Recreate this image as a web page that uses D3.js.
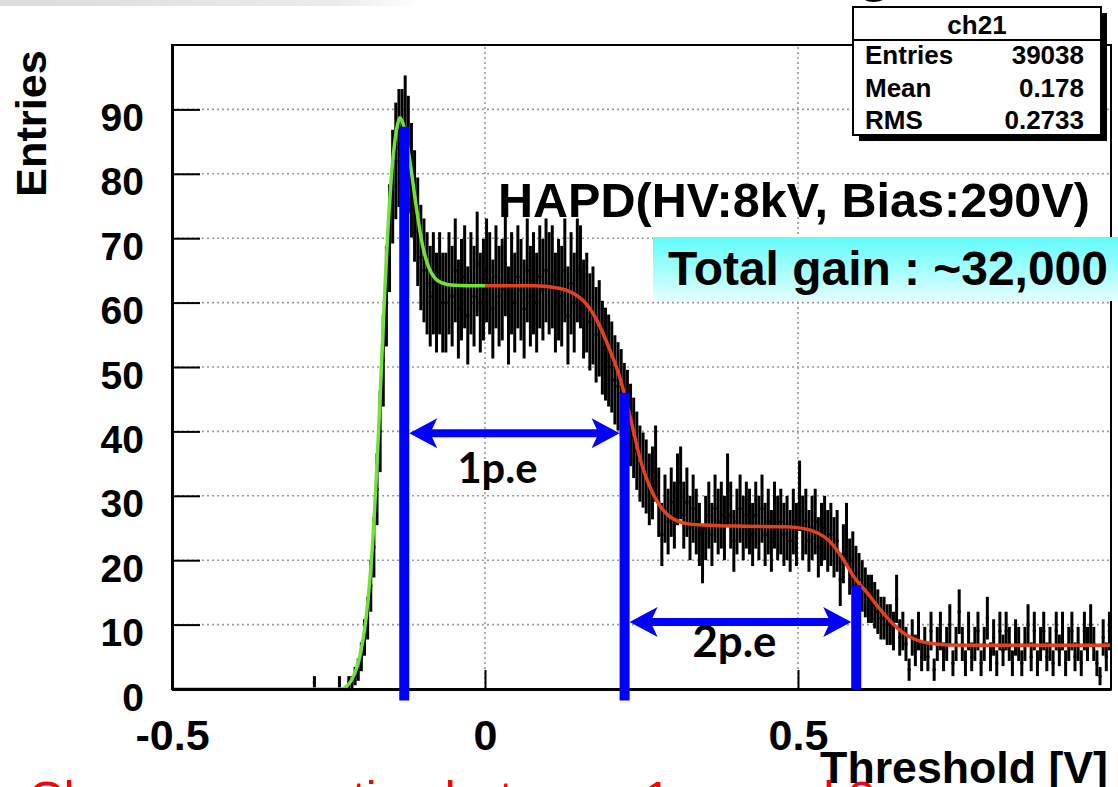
<!DOCTYPE html>
<html>
<head>
<meta charset="utf-8">
<script src="https://cdn.jsdelivr.net/npm/d3@7"></script>
<style>
  body { margin: 0; background: #fff; }
  svg { display: block; font-family: "Liberation Sans", Arial, sans-serif; }
</style>
</head>
<body>
<svg id="chart" width="1118" height="787"></svg>
<script>
// histogram ch21 : entries per threshold bin (bins of 0.005 V starting at -0.3 V)
var binStart = -0.3;
var binWidth = 0.005;
var counts = [
  0, 0, 0, 0, 0, 1, 0, 0, 0, 0, 0, 0, 0, 1, 0,
  0, 1, 1, 2, 3, 5, 8, 11, 16, 22, 31, 40, 51, 61, 70, 78, 82, 84, 84, 86,
  83, 79, 75, 71, 67, 65, 63, 61, 63, 60, 63, 60,
  60, 63, 61, 65, 59, 62, 64, 58, 63, 61, 66, 60, 62, 65, 63, 59, 64, 61, 62, 66,
  58, 63, 60, 64, 62, 59, 65, 61, 63, 60, 64, 62, 65, 63, 64, 60, 62, 61, 65, 58,
  63, 60, 65, 64,
  59, 60, 57, 58, 55, 56, 53, 52, 51, 50, 48, 47, 46, 44, 43, 41, 39, 37, 35, 34,
  33, 31, 32, 35, 29,
  24, 28, 26, 29, 27, 31, 32, 27, 29, 25, 28, 26, 24, 21, 25, 27, 24, 28, 26, 27,
  25, 31, 27, 23, 26, 28, 25, 27, 26, 24, 27, 25, 28, 24, 26, 23, 27, 25, 26, 24,
  25, 23, 26, 24, 30, 25, 26, 23, 25, 26, 22, 24, 25, 23, 24, 22, 23, 17, 21, 24,
  19, 20, 18, 17, 16,
  15, 14, 14, 13, 12, 11, 11, 10, 10, 9, 14, 8, 9, 7, 3, 8, 6, 9, 5, 7,
  5, 9, 3, 7, 9, 5, 7, 10, 4, 7, 12, 7, 4, 9, 5, 7, 9, 4, 7, 11,
  5, 8, 4, 9, 6, 9, 7, 4, 8, 7, 4, 7, 10, 5, 9, 4, 7, 9, 5, 7,
  4, 9, 6, 9, 4, 7, 9, 5, 7, 4, 9, 7, 10, 7, 4, 2, 8, 5, 9
];

// fitted curves
var greenX = [-0.5, -0.23, -0.22, -0.21, -0.2, -0.19, -0.18, -0.17, -0.16, -0.15, -0.14, -0.136,
  -0.13, -0.12, -0.11, -0.1, -0.09, -0.08, -0.07, -0.05, 0];
var greenY = [0, 0, 0.5, 2, 5, 11, 22, 40, 62, 79, 87.5, 88.7,
  87.5, 82, 75, 69, 65.5, 63.8, 63.1, 62.7, 62.6];
var redX = [0, 0.08, 0.12, 0.14, 0.16, 0.18, 0.2, 0.215, 0.23, 0.25, 0.27, 0.29, 0.31, 0.34,
  0.4, 0.48, 0.51, 0.53, 0.55, 0.57, 0.59, 0.61, 0.63, 0.65, 0.67, 0.69, 0.72, 0.76, 1.0];
var redY = [62.6, 62.6, 62.2, 61.5, 60, 57, 52.5, 48.5, 43, 35, 30, 27.2, 26, 25.5,
  25.3, 25.2, 24.9, 24.3, 23, 20.5, 17.3, 15, 12.5, 10.3, 8.6, 7.6, 7, 6.8, 6.8];

// axes
var yTicks = [0, 10, 20, 30, 40, 50, 60, 70, 80, 90];
var xTicks = [-0.5, 0, 0.5];

// stats box
var statsTitle = "ch21";
var statsNames = ["Entries", "Mean", "RMS"];
var statsValues = ["39038", "0.178", "0.2733"];

// p.e. markers (blue) and arrows
var peX = [-0.129, 0.223, 0.593];
var peTop = [87.3, 46, 16.1];
var peBottom = [-1.8, -1.8, 0];
var arrowY = [39.7, 10.4];
var arrowLabels = ["1p.e", "2p.e"];

var svg = d3.select("#chart");
var blue = "#0000ff";

var x = d3.scaleLinear().domain([-0.5, 1.0]).range([172, 1111]);
var y = d3.scaleLinear().domain([0, 100]).range([689, 45]);

// scale a text so that its width matches w
function fitText(sel, w) {
  var len = sel.node().getComputedTextLength();
  var fs = parseFloat(sel.attr("font-size"));
  sel.attr("font-size", (fs * w) / len);
  return sel;
}

var defs = svg.append("defs");
var band = defs.append("linearGradient").attr("id", "band");
band.append("stop").attr("offset", "0").attr("stop-color", "#dcdcdc");
band.append("stop").attr("offset", "0.8").attr("stop-color", "#ebebeb");
band.append("stop").attr("offset", "1").attr("stop-color", "#ffffff");
var cyan = defs.append("linearGradient").attr("id", "cyan")
  .attr("x1", 0).attr("y1", 0).attr("x2", 0).attr("y2", 1);
cyan.append("stop").attr("offset", "0").attr("stop-color", "#5ffcfc");
cyan.append("stop").attr("offset", "1").attr("stop-color", "#e4ffff");
defs.append("clipPath").attr("id", "plot")
  .append("rect")
  .attr("x", x(-0.5)).attr("y", y(100))
  .attr("width", x(1.0) - x(-0.5)).attr("height", y(0) - y(100) + 1);

// slide leftovers at the top and bottom
svg.append("rect").attr("x", 0).attr("y", 0).attr("width", 420).attr("height", 6).attr("fill", "url(#band)");
svg.append("text").attr("x", 861).attr("y", -11).attr("font-size", 54)
  .attr("font-family", "'Open Sans', sans-serif").attr("font-weight", 300).text("g");
svg.append("text").attr("x", 28).attr("y", 815)
  .attr("font-size", 49).attr("fill", "#ff0000")
  .text("Charge separation between 1p.e and 2p.e");

// dotted grid
svg.append("g").selectAll("line")
  .data(yTicks.slice(1))
  .join("line")
  .attr("x1", x(-0.5)).attr("x2", x(1.0))
  .attr("y1", function (d) { return y(d); })
  .attr("y2", function (d) { return y(d); })
  .attr("stroke", "#9a9a9a").attr("stroke-width", 1.6).attr("stroke-dasharray", "2,3");
svg.append("g").selectAll("line")
  .data(xTicks.slice(1))
  .join("line")
  .attr("x1", function (d) { return x(d); })
  .attr("x2", function (d) { return x(d); })
  .attr("y1", y(0)).attr("y2", y(100))
  .attr("stroke", "#9a9a9a").attr("stroke-width", 1.6).attr("stroke-dasharray", "2,3");

// histogram drawn with error bars, as ROOT does after a fit
var bins = counts
  .map(function (c, i) {
    return { x0: binStart + i * binWidth, x1: binStart + (i + 1) * binWidth, v: c };
  })
  .filter(function (d) { return d.v > 0; });
var hist = svg.append("g").attr("clip-path", "url(#plot)");
hist.selectAll(".err")
  .data(bins)
  .join("line")
  .attr("class", "err")
  .attr("x1", function (d) { return x((d.x0 + d.x1) / 2); })
  .attr("x2", function (d) { return x((d.x0 + d.x1) / 2); })
  .attr("y1", function (d) { return y(d.v - Math.sqrt(d.v)); })
  .attr("y2", function (d) { return y(d.v + Math.sqrt(d.v)); })
  .attr("stroke", "#000").attr("stroke-width", 3);
hist.selectAll(".bin")
  .data(bins)
  .join("line")
  .attr("class", "bin")
  .attr("x1", function (d) { return x(d.x0); })
  .attr("x2", function (d) { return x(d.x1); })
  .attr("y1", function (d) { return y(d.v); })
  .attr("y2", function (d) { return y(d.v); })
  .attr("stroke", "#000").attr("stroke-width", 2.5);

// fits
var smooth = d3.line()
  .x(function (d) { return x(d[0]); })
  .y(function (d) { return y(d[1]); })
  .curve(d3.curveMonotoneX);
svg.append("path")
  .attr("d", smooth(d3.zip(greenX, greenY)))
  .attr("fill", "none").attr("stroke", "#72e234").attr("stroke-width", 3.5);
svg.append("path")
  .attr("d", smooth(d3.zip(redX, redY)))
  .attr("fill", "none").attr("stroke", "#e8401a").attr("stroke-width", 3.5);

// frame and axes
svg.append("rect")
  .attr("x", x(-0.5)).attr("y", y(100))
  .attr("width", x(1.0) - x(-0.5)).attr("height", y(0) - y(100))
  .attr("fill", "none").attr("stroke", "#000").attr("stroke-width", 2);

var yAxis = svg.append("g").attr("transform", "translate(" + x(-0.5) + ",0)");
yAxis.call(d3.axisLeft(y).tickValues(d3.range(0, 100, 2)).tickSize(-14).tickSizeOuter(0).tickFormat(""));
yAxis.call(d3.axisLeft(y).tickValues(yTicks).tickSize(-28).tickSizeOuter(0).tickPadding(28)
  .tickFormat(function (d) { return String(d); }));
yAxis.selectAll("line").attr("stroke-width", 2);
yAxis.selectAll(".domain").attr("stroke-width", 3);
yAxis.selectAll("text")
  .attr("dy", 21)
  .attr("font-size", 39).attr("font-weight", "bold")
  .attr("font-family", "'Liberation Sans', Arial, sans-serif").attr("fill", "#000");

var xAxis = svg.append("g").attr("transform", "translate(0," + y(0) + ")");
xAxis.call(d3.axisBottom(x).tickValues(d3.range(-0.5, 1.0001, 0.1)).tickSize(-9).tickSizeOuter(0).tickFormat(""));
xAxis.call(d3.axisBottom(x).tickValues(xTicks).tickSize(-19).tickSizeOuter(0)
  .tickFormat(function (d) { return String(d); }));
xAxis.selectAll("line").attr("stroke-width", 2);
xAxis.selectAll(".domain").attr("stroke-width", 3);
xAxis.selectAll("text")
  .attr("y", 61).attr("dy", 0)
  .attr("font-size", 43).attr("font-weight", "bold")
  .attr("font-family", "'Liberation Sans', Arial, sans-serif").attr("fill", "#000");

// axis titles
fitText(svg.append("text")
  .attr("transform", "translate(46,197) rotate(-90)")
  .attr("font-size", 42).attr("font-weight", "bold")
  .text("Entries"), 147);
fitText(svg.append("text")
  .attr("x", 1108).attr("y", 783).attr("text-anchor", "end")
  .attr("font-size", 42).attr("font-weight", "bold")
  .text("Threshold [V]"), 288);

// stats box
var stats = svg.append("g");
stats.append("rect").attr("x", 859).attr("y", 13).attr("width", 248).attr("height", 128).attr("fill", "#000");
stats.append("rect").attr("x", 853).attr("y", 7).attr("width", 248).attr("height", 128)
  .attr("fill", "#fff").attr("stroke", "#000").attr("stroke-width", 2);
stats.append("line").attr("x1", 853).attr("x2", 1101).attr("y1", 40).attr("y2", 40)
  .attr("stroke", "#000").attr("stroke-width", 2);
stats.append("text").attr("x", 977).attr("y", 34).attr("text-anchor", "middle")
  .attr("font-size", 26).attr("font-weight", "bold").text(statsTitle);
stats.selectAll(".sname").data(statsNames).join("text")
  .attr("class", "sname")
  .attr("x", 865)
  .attr("y", function (d, i) { return 64 + i * 32.5; })
  .attr("font-size", 26).attr("font-weight", "bold")
  .text(function (d) { return d; });
stats.selectAll(".sval").data(statsValues).join("text")
  .attr("class", "sval")
  .attr("x", 1084).attr("text-anchor", "end")
  .attr("y", function (d, i) { return 64 + i * 32.5; })
  .attr("font-size", 26).attr("font-weight", "bold")
  .text(function (d) { return d; });

// HAPD labels
fitText(svg.append("text").attr("x", 498).attr("y", 217)
  .attr("font-size", 46).attr("font-weight", "bold")
  .text("HAPD(HV:8kV, Bias:290V)"), 592);
svg.append("rect").attr("x", 653).attr("y", 237).attr("width", 465).attr("height", 64)
  .attr("fill", "url(#cyan)");
fitText(svg.append("text").attr("x", 668).attr("y", 285)
  .attr("font-size", 40).attr("font-weight", "bold")
  .text("Total gain : ~32,000"), 440);

// blue p.e. markers
svg.append("g").selectAll("line")
  .data(peX)
  .join("line")
  .attr("x1", function (d) { return x(d); })
  .attr("x2", function (d) { return x(d); })
  .attr("y1", function (d, i) { return y(peTop[i]); })
  .attr("y2", function (d, i) { return y(peBottom[i]); })
  .attr("stroke", blue).attr("stroke-width", 10);

// double arrows between markers
var labelDx = [-17, -6];
var labelDy = [50, 35];
var labelW = [80, 84];
arrowY.forEach(function (v, i) {
  var x0 = x(peX[i]) + 5;
  var x1 = x(peX[i + 1]) - 5;
  var yy = y(v);
  var g = svg.append("g");
  g.append("line").attr("x1", x0 + 15).attr("x2", x1 - 15).attr("y1", yy).attr("y2", yy)
    .attr("stroke", blue).attr("stroke-width", 8);
  g.append("path")
    .attr("d", "M" + x0 + "," + yy + "L" + (x0 + 28) + "," + (yy - 15) + "L" + (x0 + 21) + "," + yy +
      "L" + (x0 + 28) + "," + (yy + 15) + "Z")
    .attr("fill", blue);
  g.append("path")
    .attr("d", "M" + x1 + "," + yy + "L" + (x1 - 28) + "," + (yy - 15) + "L" + (x1 - 21) + "," + yy +
      "L" + (x1 - 28) + "," + (yy + 15) + "Z")
    .attr("fill", blue);
  fitText(g.append("text")
    .attr("x", (x0 + x1) / 2 + labelDx[i]).attr("y", yy + labelDy[i])
    .attr("text-anchor", "middle")
    .attr("font-family", "Lato, 'Open Sans', sans-serif")
    .attr("font-size", 34).attr("font-weight", "bold")
    .text(arrowLabels[i]), labelW[i]);
});
</script>
</body>
</html>
